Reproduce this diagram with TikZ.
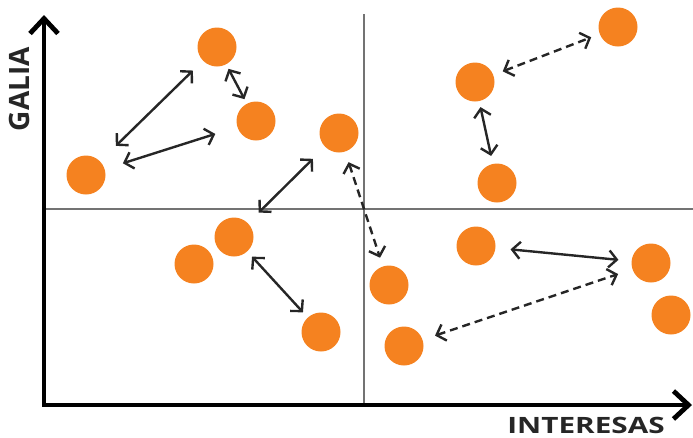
\documentclass[tikz,border=0pt]{standalone}
\usepackage{fontspec}
\setmainfont{Open Sans}
\usetikzlibrary{arrows.meta}
\definecolor{dotorange}{HTML}{F58220}
\begin{document}
\begin{tikzpicture}[x=1pt, y=-1pt,
    dot/.style={circle, fill=dotorange, inner sep=0pt, minimum size=39pt},
    link/.style={line width=2.4pt, color=black!85, {Straight Barb[length=8pt,width=17pt]}-{Straight Barb[length=8pt,width=17pt]}},
    dlink/.style={link, dash pattern=on 8pt off 5pt},
    axis/.style={line width=4.8pt, line join=miter, {Straight Barb[length=15pt,width=28pt]}-{Straight Barb[length=15pt,width=28pt]}},
    guide/.style={line width=1.2pt, color=black!55},
    lbl/.style={font=\bfseries, color=black!85}]
      \useasboundingbox (0, 0) rectangle (693, 437);
      \coordinate (ytop) at (44, 15);
      \coordinate (orig) at (44, 405);
      \coordinate (xend) at (692, 405);
      \draw[guide] (364, 14) -- (364, 405)
                   (44, 209) -- (693, 209);
      \draw[axis] (ytop) -- (orig) -- (xend);
      \node[lbl, rotate=90, font=\bfseries\fontsize{28}{32}\selectfont] (galia) at (19, 89) {GALIA};
      \node[lbl, xscale=1.32, font=\bfseries\fontsize{22.5}{26}\selectfont] (interesas) at (586, 425) {INTERESAS};
      \node[dot] (d1) at (86, 175) {};
      \node[dot] (d2) at (217, 47) {};
      \node[dot] (d3) at (256, 121) {};
      \node[dot] (d4) at (339, 133) {};
      \node[dot] (d5) at (234, 237) {};
      \node[dot] (d6) at (194, 264) {};
      \node[dot] (d7) at (321, 332) {};
      \node[dot] (d8) at (389, 285) {};
      \node[dot] (d9) at (404, 346) {};
      \node[dot] (d10) at (475, 82) {};
      \node[dot] (d11) at (497, 183) {};
      \node[dot] (d12) at (618, 27) {};
      \node[dot] (d13) at (476, 246) {};
      \node[dot] (d14) at (651, 263) {};
      \node[dot] (d15) at (671, 315) {};
      \draw[link] (d1) edge [shorten <=22pt, shorten >=14pt] (d2)
                  (d1) edge [shorten <=19pt, shorten >=23pt] (d3)
                  (d2) edge [shorten <=5pt, shorten >=5pt] (d3)
                  (d5) edge [shorten <=15pt, shorten >=17pt] (d4)
                  (d5) edge [shorten <=7pt, shorten >=7pt] (d7)
                  (d10) edge [shorten <=6pt, shorten >=8pt] (d11)
                  (d13) edge [shorten <=15pt, shorten >=13pt] (d14);
      \draw[dlink] (d4) edge [shorten <=11pt, shorten >=9pt] (d8)
                   (d10) edge [shorten <=10pt, shorten >=9pt] (d12)
                   (d9) edge [shorten <=13pt, shorten >=15pt] (d14);
\end{tikzpicture}
\end{document}
